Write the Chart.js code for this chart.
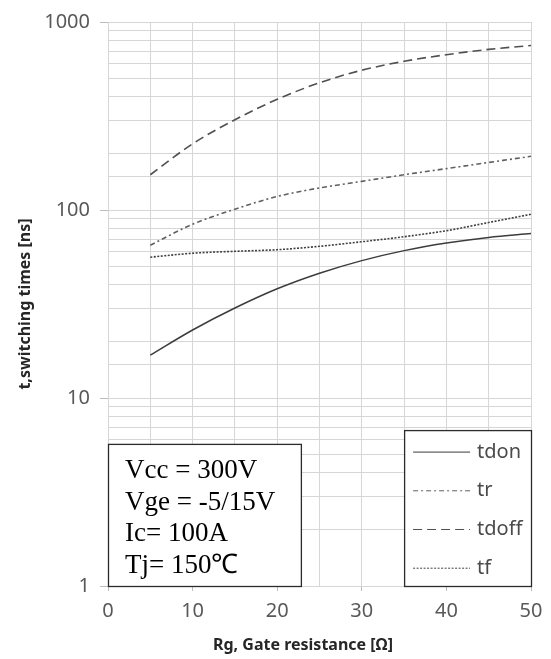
<!DOCTYPE html>
<html>
<head>
<meta charset="utf-8">
<title>Switching times vs gate resistance</title>
<script src="https://cdn.jsdelivr.net/npm/chart.js@4/dist/chart.umd.min.js"></script>
<style>
  html, body { margin: 0; padding: 0; background: #fff; }
  #wrap { position: relative; width: 551px; height: 659px; }
</style>
</head>
<body>
<div id="wrap"><canvas id="sw"></canvas></div>
<script>
'use strict';

// gate resistance Rg [Ω]
const rg = [5, 10, 15, 20, 25, 30, 35, 40, 45, 50];

// switching times [ns]
const tdon  = [16.9, 23.0, 30.1, 38.1, 46.1, 53.8, 60.8, 66.7, 71.5, 75.0];
const tr    = [65, 84, 101, 118, 131, 142, 154, 166, 179, 193];
const tdoff = [154, 225, 302, 388, 475, 554, 618, 670, 715, 750];
const tf    = [56.1, 58.9, 60.3, 61.5, 64.1, 67.8, 72.1, 77.6, 85.8, 94.9];

// vertical grid every 5 Ω, labels every 10
const xGrid  = [0, 5, 10, 15, 20, 25, 30, 35, 40, 45, 50];
const xTicks = [0, 10, 20, 30, 40, 50];
const yTicks = [1, 10, 100, 1000];

const conditions = ['Vcc = 300V', 'Vge = -5/15V', 'Ic= 100A', 'Tj= 150\u2103'];

const pts = ys => rg.map((x, i) => ({ x, y: ys[i] }));

const series = [
  { label: 'tdon',  data: pts(tdon),  borderColor: '#3c3c3c', borderWidth: 1.5, borderDash: [] },
  { label: 'tr',    data: pts(tr),    borderColor: '#606060', borderWidth: 1.6, borderDash: [5, 3, 2, 3] },
  { label: 'tdoff', data: pts(tdoff), borderColor: '#505050', borderWidth: 1.6, borderDash: [9, 5] },
  { label: 'tf',    data: pts(tf),    borderColor: '#404040', borderWidth: 1.6, borderDash: [2, 1.5] },
].map(d => Object.assign(d, { pointRadius: 0, fill: false, tension: 0.4, cubicInterpolationMode: 'monotone' }));

const GRID = '#d6d6d6';
const TICK_TXT = '#595959';

/* boxes, axis titles and legend drawn on top of the grid */
const boxes = {
  id: 'boxes',
  beforeDatasetsDraw(chart) {
    const { ctx, scales: { x, y } } = chart;
    ctx.save();
    ctx.lineWidth = 1.3;
    ctx.strokeStyle = '#2b2b2b';
    ctx.fillStyle = '#fff';

    // operating conditions
    const cx0 = x.getPixelForValue(0), cx1 = x.getPixelForValue(22.8);
    const cy0 = y.getPixelForValue(5.7), cy1 = y.getPixelForValue(1);
    ctx.fillRect(cx0, cy0, cx1 - cx0, cy1 - cy0);
    ctx.strokeRect(cx0 + 0.5, cy0 + 0.5, cx1 - cx0, cy1 - cy0);
    ctx.fillStyle = '#000';
    ctx.font = '27px "Liberation Serif", serif';
    ctx.textBaseline = 'alphabetic';
    conditions.forEach((t, i) => ctx.fillText(t, cx0 + 17, cy0 + 34 + i * 31.7));

    // legend
    const lx0 = x.getPixelForValue(35), lx1 = x.getPixelForValue(50);
    const ly0 = y.getPixelForValue(6.75), ly1 = y.getPixelForValue(1);
    ctx.fillStyle = '#fff';
    ctx.fillRect(lx0, ly0, lx1 - lx0, ly1 - ly0);
    ctx.strokeRect(lx0 + 0.5, ly0 + 0.5, lx1 - lx0, ly1 - ly0);
    ctx.font = '20px "Noto Sans", sans-serif';
    ctx.textBaseline = 'middle';
    chart.data.datasets.forEach((d, i) => {
      const ry = ly0 + 22 + i * 38.7;
      ctx.save();
      ctx.strokeStyle = d.borderColor;
      ctx.lineWidth = 1;
      ctx.setLineDash(d.borderDash);
      ctx.beginPath();
      ctx.moveTo(lx0 + 9, ry);
      ctx.lineTo(lx0 + 66, ry);
      ctx.stroke();
      ctx.restore();
      ctx.fillStyle = '#4a4a4a';
      ctx.fillText(d.label, lx0 + 73, ry);
    });
    ctx.restore();
  },
  afterDraw(chart) {
    const { ctx, chartArea } = chart;
    ctx.save();
    ctx.fillStyle = '#262626';
    ctx.font = 'bold 16px "Noto Sans", sans-serif';
    ctx.textAlign = 'center';
    ctx.textBaseline = 'middle';
    ctx.fillText('Rg, Gate resistance [\u03A9]', 303, 645);
    ctx.translate(25, (chartArea.top + chartArea.bottom) / 2);
    ctx.rotate(-Math.PI / 2);
    ctx.fillText('t,switching times [ns]', 0, 0);
    ctx.restore();
  }
};

new Chart(document.getElementById('sw'), {
  type: 'line',
  data: { datasets: series },
  options: {
    responsive: true,
    maintainAspectRatio: false,
    animation: false,
    layout: { padding: { top: 18, right: 20, left: 0, bottom: 0 } },
    plugins: { legend: { display: false }, tooltip: { enabled: false } },
    scales: {
      x: {
        type: 'linear',
        min: 0, max: 50,
        afterFit: s => { s.height = 73; },
        afterBuildTicks: s => { s.ticks = xGrid.map(v => ({ value: v })); },
        grid: {
          color: GRID, lineWidth: 1, tickLength: 5,
          tickColor: c => xTicks.includes(c.tick && c.tick.value) ? '#bdbdbd' : 'rgba(0,0,0,0)'
        },
        border: { color: GRID },
        ticks: {
          padding: 8,
          autoSkip: false,
          maxRotation: 0,
          color: TICK_TXT,
          font: { family: '"Noto Sans", sans-serif', size: 20 },
          callback: v => xTicks.includes(v) ? String(v) : ''
        }
      },
      y: {
        type: 'logarithmic',
        min: 1, max: 1000,
        afterFit: s => { s.width = 108; },
        grid: {
          color: GRID, lineWidth: 1, tickLength: 8,
          tickColor: c => yTicks.includes(c.tick && c.tick.value) ? '#bdbdbd' : 'rgba(0,0,0,0)'
        },
        border: { color: GRID },
        ticks: {
          autoSkip: false,
          padding: 10,
          color: TICK_TXT,
          font: { family: '"Noto Sans", sans-serif', size: 20 },
          callback: v => yTicks.includes(v) ? String(v) : ''
        }
      }
    }
  },
  plugins: [boxes]
});
</script>
</body>
</html>
